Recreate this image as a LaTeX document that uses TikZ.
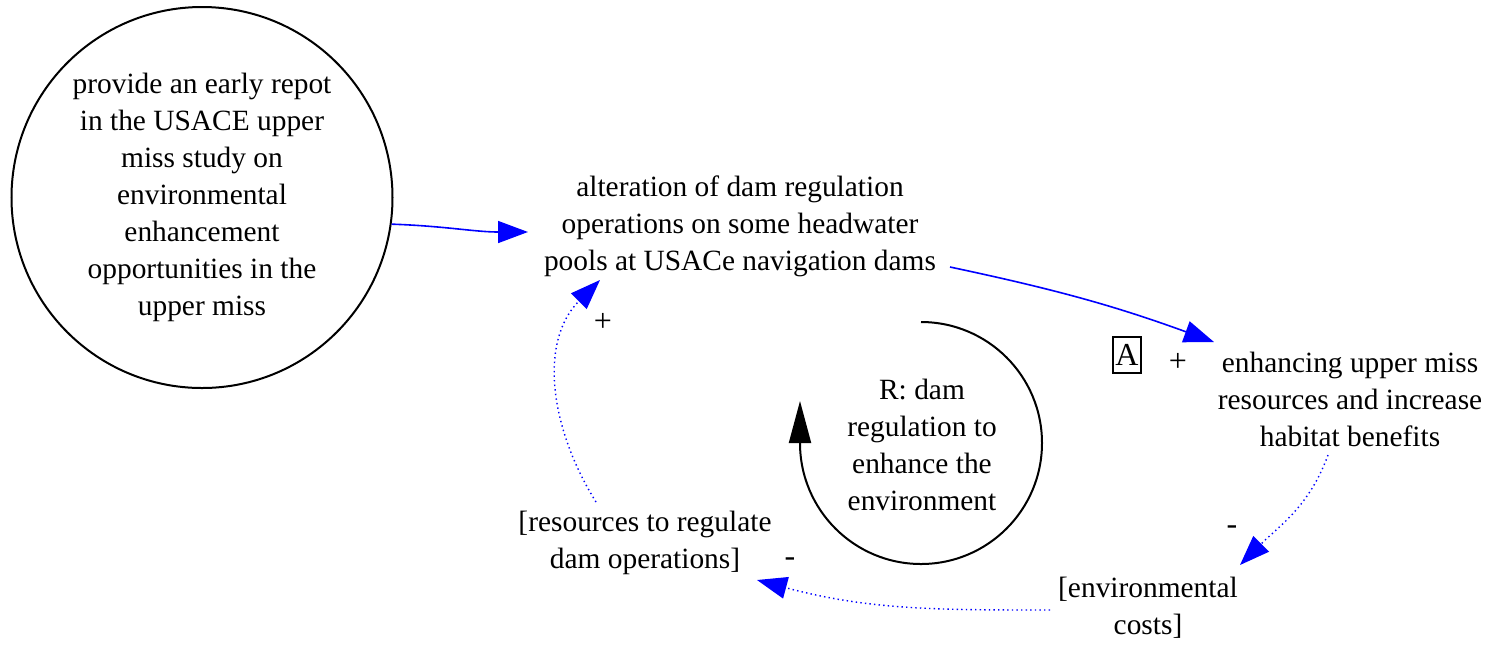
\documentclass[tikz,border=0pt]{standalone}
\usepackage{fontspec}
\setmainfont{Liberation Serif}
\usetikzlibrary{arrows.meta,calc}
\begin{document}
\begin{tikzpicture}[x=0.5pt,y=-0.5pt,
  txt/.style={align=center,inner sep=0pt,font=\fontsize{14.7}{18.5}\selectfont},
  posedge/.style={draw=blue,line width=0.8pt,-{Triangle[length=15pt,width=11pt]},fill=none},
  dotedge/.style={posedge,line width=0.7pt,dash pattern=on 0.7pt off 1.6pt},
  lbl/.style={inner sep=0pt,font=\fontsize{16}{18.5}\selectfont}]
\useasboundingbox (0,0) rectangle (1501,645);

\node[txt,draw,circle,line width=1pt,minimum size=190.5pt] (c) at (202,197.5)
  {provide an early repot\\in the USACE upper\\miss study on\\environmental\\enhancement\\opportunities in the\\upper miss};
\node[txt] (alt) at (740,226) {alteration of dam regulation\\operations on some headwater\\pools at USACe navigation dams};
\node[txt] (enh) at (1350,399) {enhancing upper miss\\resources and increase\\habitat benefits};
\node[txt] (env) at (1148,608) {[environmental\\costs]};
\node[txt] (res) at (645,543) {[resources to regulate\\dam operations]};
\node[txt] (loop) at (922,445) {R: dam\\regulation to\\enhance the\\environment};

\draw[posedge] (c.-8.3) to[out=-2,in=180] ($(alt)+(-212,6)$);
\draw[posedge] ($(alt)+(210,41)$) to[out=-12,in=160] ($(enh)+(-136,-57)$);
\draw[dotedge] ($(enh)+(-22,56)$) to[out=-110,in=45] ($(env)+(92,-43)$);
\draw[dotedge] ($(env)+(-98,2)$) to[out=180,in=-15] ($(res)+(112,37)$);
\draw[dotedge] ($(res)+(-49,-41)$) to[out=122,in=-135] ($(alt)+(-140,54)$);

\draw[line width=1pt,-{Triangle[length=21pt,width=11pt]}]
  ($(loop)+(-1,-123)$) arc[start angle=90,end angle=-180,radius=60.5pt] -- ++(0,-42);

\node[lbl] (p1) at (603,322) {+};
\node[lbl,draw,line width=0.6pt,minimum width=14pt,minimum height=18pt] (a) at (1127,355) {A};
\node[lbl] (p2) at (1178,362) {+};
\node[lbl] (m1) at (790,562) {-};
\node[lbl] (m2) at (1232,530) {-};
\end{tikzpicture}
\end{document}
